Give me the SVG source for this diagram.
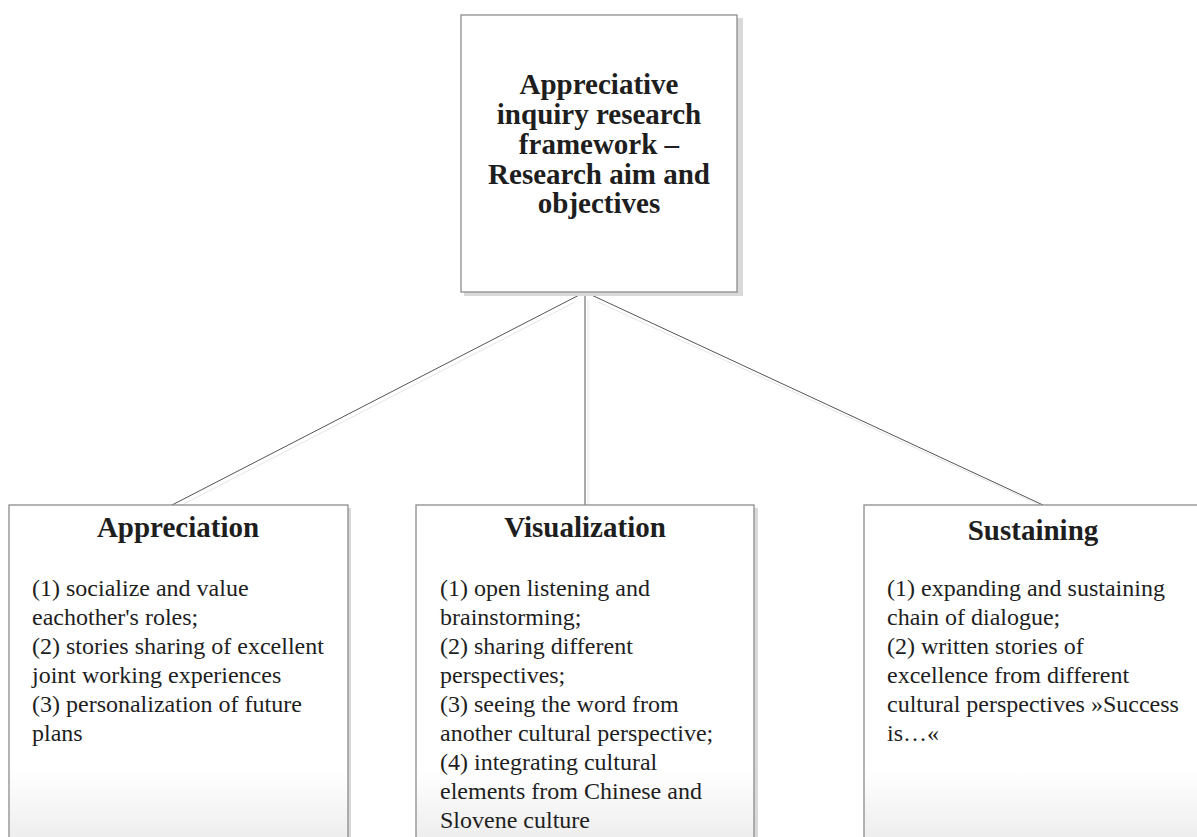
<svg xmlns="http://www.w3.org/2000/svg" width="1197" height="837" viewBox="0 0 1197 837">
<defs>
<linearGradient id="fade" x1="0" y1="0" x2="0" y2="1">
<stop offset="0" stop-color="#ffffff"/>
<stop offset="0.78" stop-color="#ffffff"/>
<stop offset="1" stop-color="#ececec"/>
</linearGradient>
<style>
.box{fill:#ffffff;stroke:#8c8c8c;stroke-width:1.3}
.gbox{fill:url(#fade);stroke:#8c8c8c;stroke-width:1.3}
.shadow{fill:#d9d9d9}
.conn{stroke:#555555;stroke-width:1;fill:none}
.cshadow{stroke:#e6e6e6;stroke-width:1;fill:none}
.title{font-family:"Liberation Serif","Times New Roman",serif;font-weight:bold;font-size:29px;fill:#1e1e1e;text-anchor:middle}
.head{font-family:"Liberation Serif","Times New Roman",serif;font-weight:bold;font-size:29px;fill:#1e1e1e;text-anchor:middle}
.body{font-family:"Liberation Serif","Times New Roman",serif;font-size:24px;fill:#1e1e1e}
</style>
</defs>
<rect width="1197" height="837" fill="#ffffff"/>
<g id="connectors">
<line class="cshadow" x1="575" y1="302" x2="176" y2="508"/>
<line class="cshadow" x1="588" y1="300" x2="588" y2="505"/>
<line class="cshadow" x1="598" y1="302" x2="1046" y2="508"/>
<line class="conn" x1="585" y1="292" x2="172" y2="505"/>
<line class="conn" x1="585" y1="292" x2="585" y2="505"/>
<line class="conn" x1="585" y1="292" x2="1043" y2="505"/>
</g>
<g id="node-top">
<rect class="shadow" x="464" y="18" width="279" height="278"/>
<rect class="box" x="461" y="15" width="276" height="277"/>
<text class="title" x="599" y="94">Appreciative</text>
<text class="title" x="599" y="124">inquiry research</text>
<text class="title" x="599" y="154">framework –</text>
<text class="title" x="599" y="184">Research aim and</text>
<text class="title" x="599" y="213">objectives</text>
</g>
<g id="node-appreciation">
<rect class="shadow" x="12" y="508" width="339" height="340"/>
<rect class="gbox" x="9" y="505" width="339" height="340"/>
<text class="head" x="178" y="537">Appreciation</text>
<text class="body" x="32" y="596">(1) socialize and value</text>
<text class="body" x="32" y="625">eachother's roles;</text>
<text class="body" x="32" y="654">(2) stories sharing of excellent</text>
<text class="body" x="32" y="683">joint working experiences</text>
<text class="body" x="32" y="712">(3) personalization of future</text>
<text class="body" x="32" y="741">plans</text>
</g>
<g id="node-visualization">
<rect class="shadow" x="419" y="508" width="339" height="340"/>
<rect class="gbox" x="416" y="505" width="338" height="340"/>
<text class="head" x="585" y="537">Visualization</text>
<text class="body" x="440" y="596">(1) open listening and</text>
<text class="body" x="440" y="625">brainstorming;</text>
<text class="body" x="440" y="654">(2) sharing different</text>
<text class="body" x="440" y="683">perspectives;</text>
<text class="body" x="440" y="712">(3) seeing the word from</text>
<text class="body" x="440" y="741">another cultural perspective;</text>
<text class="body" x="440" y="770">(4) integrating cultural</text>
<text class="body" x="440" y="799">elements from Chinese and</text>
<text class="body" x="440" y="828">Slovene culture</text>
</g>
<g id="node-sustaining">
<rect class="shadow" x="867" y="508" width="339" height="340"/>
<rect class="gbox" x="864" y="505" width="339" height="340"/>
<text class="head" x="1033" y="540">Sustaining</text>
<text class="body" x="887" y="596">(1) expanding and sustaining</text>
<text class="body" x="887" y="625">chain of dialogue;</text>
<text class="body" x="887" y="654">(2) written stories of</text>
<text class="body" x="887" y="683">excellence from different</text>
<text class="body" x="887" y="712">cultural perspectives »Success</text>
<text class="body" x="887" y="741">is…«</text>
</g>
</svg>
